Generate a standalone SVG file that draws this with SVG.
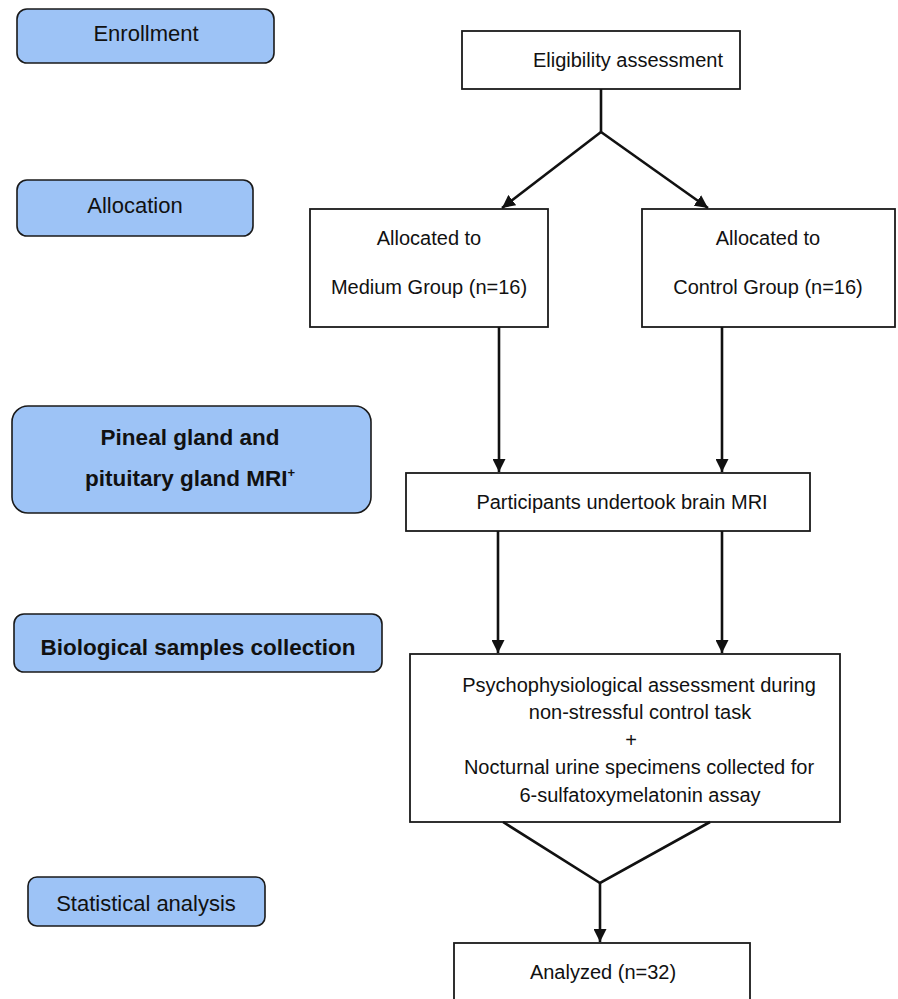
<svg xmlns="http://www.w3.org/2000/svg" width="898" height="999" viewBox="0 0 898 999">
<defs>
<style>
.lbl{fill:#9dc3f6;stroke:#1a1a1a;stroke-width:1.6}
.box{fill:#fff;stroke:#1a1a1a;stroke-width:1.8}
.t{font-family:"Liberation Sans",Arial,sans-serif;fill:#111;text-anchor:middle}
.n{font-size:22px}
.b{font-size:22.5px;font-weight:bold}
.r{font-size:20px}
.c{stroke:#111;stroke-width:2.6;fill:none}
</style>
<marker id="ah" viewBox="0 0 10 10" refX="10" refY="5" markerWidth="5" markerHeight="5" markerUnits="strokeWidth" orient="auto">
<path d="M0,0 L10,5 L0,10 z" fill="#111"/>
</marker>
</defs>
<rect width="898" height="999" fill="#fff"/>

<g id="enrollment"><rect class="lbl" x="17" y="9" width="257" height="54" rx="10"/><text class="t n" x="146" y="41">Enrollment</text></g>
<g id="allocation"><rect class="lbl" x="17" y="180" width="236" height="56" rx="10"/><text class="t n" x="135" y="213">Allocation</text></g>
<g id="mri-label"><rect class="lbl" x="12" y="406" width="359" height="107" rx="16"/><text class="t b" x="190" y="445">Pineal gland and</text><text class="t b" x="190" y="486">pituitary gland MRI<tspan font-size="13" dy="-9">+</tspan></text></g>
<g id="bio-label"><rect class="lbl" x="14" y="614" width="368" height="58" rx="10"/><text class="t b" x="198" y="655">Biological samples collection</text></g>
<g id="stat-label"><rect class="lbl" x="28" y="877" width="237" height="49" rx="9"/><text class="t n" x="146" y="911">Statistical analysis</text></g>

<g id="eligibility"><rect class="box" x="462" y="31" width="278" height="58"/><text class="t r" x="628" y="67">Eligibility assessment</text></g>
<g id="medium"><rect class="box" x="310" y="209" width="238" height="118"/><text class="t r" x="429" y="245">Allocated to</text><text class="t r" x="429" y="294">Medium Group (n=16)</text></g>
<g id="control"><rect class="box" x="642" y="209" width="253" height="118"/><text class="t r" x="768" y="245">Allocated to</text><text class="t r" x="768" y="294">Control Group (n=16)</text></g>
<g id="mri"><rect class="box" x="406" y="473" width="404" height="58"/><text class="t r" x="622" y="509">Participants undertook brain MRI</text></g>
<g id="psycho"><rect class="box" x="410" y="654" width="430" height="168"/>
<text class="t r" x="639" y="692">Psychophysiological assessment during</text>
<text class="t r" x="640" y="719">non-stressful control task</text>
<text class="t r" x="631" y="747">+</text>
<text class="t r" x="639" y="774">Nocturnal urine specimens collected for</text>
<text class="t r" x="640" y="802">6-sulfatoxymelatonin assay</text></g>
<g id="analyzed"><rect class="box" x="454" y="943" width="296" height="70"/><text class="t r" x="603" y="979">Analyzed (n=32)</text></g>

<g id="connectors">
<path class="c" d="M601,89 L601,132"/>
<path class="c" d="M601,132 L502,208" marker-end="url(#ah)"/>
<path class="c" d="M601,132 L708,208" marker-end="url(#ah)"/>
<path class="c" d="M499,327 L499,472" marker-end="url(#ah)"/>
<path class="c" d="M722,327 L722,472" marker-end="url(#ah)"/>
<path class="c" d="M498,531 L498,653" marker-end="url(#ah)"/>
<path class="c" d="M722,531 L722,653" marker-end="url(#ah)"/>
<path class="c" d="M503,822 L600,883 L710,822"/>
<path class="c" d="M600,883 L600,942" marker-end="url(#ah)"/>
</g>
</svg>
